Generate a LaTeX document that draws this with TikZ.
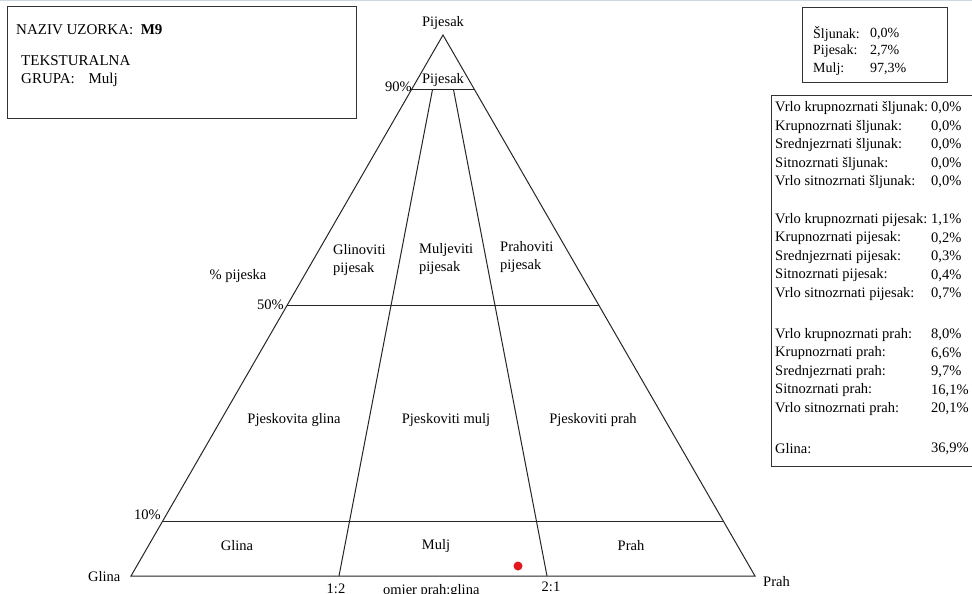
\documentclass[tikz,border=0pt]{standalone}
\usepackage{fontspec}
\setmainfont{Liberation Serif}
\usetikzlibrary{calc}
\definecolor{dotred}{RGB}{225,25,30}
\definecolor{topline}{RGB}{205,215,225}
\begin{document}
\begin{tikzpicture}[x=1pt,y=-1pt,
  txt/.style={inner sep=0pt, anchor=west, font=\rmfamily\fontsize{15}{17}\selectfont},
  btxt/.style={inner sep=0pt, anchor=west, font=\rmfamily\fontsize{14.5}{17}\selectfont},
  stxt/.style={inner sep=0pt, anchor=west, font=\rmfamily\fontsize{14}{16}\selectfont},
  lbl/.style={inner sep=0pt, font=\rmfamily\fontsize{14.5}{18}\selectfont, align=left},
  edge/.style={line width=1pt, draw=black!85},
  frame/.style={line width=1pt, draw=black!80}]
\useasboundingbox (0,0) rectangle (972,594);
\clip (0,0) rectangle (972,594);
\fill[white] (0,0) rectangle (972,594);
\draw[line width=1.5pt, draw=topline] (0,0.75) -- (972,0.75);

% info box left
\draw[frame] (7,7) rectangle (356,118);
\node[txt] (naziv) at (16,30) {NAZIV UZORKA:\enspace\textbf{M9}};
\node[txt] (tek) at (21,61) {TEKSTURALNA};
\node[txt] (grupa) at (21,80) {GRUPA:\enspace\, Mulj};

% info box top right
\draw[frame] (802,8) rectangle (947,83);
\node[stxt] (s1) at (813,34) {Šljunak:};
\node[stxt] (s1v) at (870,34) {0,0\%};
\node[stxt] (s2) at (813,51) {Pijesak:};
\node[stxt] (s2v) at (870,51) {2,7\%};
\node[stxt] (s3) at (813,69) {Mulj:};
\node[stxt] (s3v) at (870,69) {97,3\%};

% big right box
\draw[frame] (771,95) rectangle (990,466);
\node[btxt] (k1) at (775,108) {Vrlo krupnozrnati šljunak:};
\node[btxt] (v1) at (931,108) {0,0\%};
\node[btxt] (k2) at (775,126.5) {Krupnozrnati šljunak:};
\node[btxt] (v2) at (931,126.5) {0,0\%};
\node[btxt] (k3) at (775,145) {Srednjezrnati šljunak:};
\node[btxt] (v3) at (931,145) {0,0\%};
\node[btxt] (k4) at (775,163.5) {Sitnozrnati šljunak:};
\node[btxt] (v4) at (931,163.5) {0,0\%};
\node[btxt] (k5) at (775,182) {Vrlo sitnozrnati šljunak:};
\node[btxt] (v5) at (931,182) {0,0\%};
\node[btxt] (k6) at (775,220) {Vrlo krupnozrnati pijesak:};
\node[btxt] (v6) at (931,220) {1,1\%};
\node[btxt] (k7) at (775,238.5) {Krupnozrnati pijesak:};
\node[btxt] (v7) at (931,238.5) {0,2\%};
\node[btxt] (k8) at (775,257) {Srednjezrnati pijesak:};
\node[btxt] (v8) at (931,257) {0,3\%};
\node[btxt] (k9) at (775,275.5) {Sitnozrnati pijesak:};
\node[btxt] (v9) at (931,275.5) {0,4\%};
\node[btxt] (k10) at (775,294) {Vrlo sitnozrnati pijesak:};
\node[btxt] (v10) at (931,294) {0,7\%};
\node[btxt] (k11) at (775,335) {Vrlo krupnozrnati prah:};
\node[btxt] (v11) at (931,335) {8,0\%};
\node[btxt] (k12) at (775,353.5) {Krupnozrnati prah:};
\node[btxt] (v12) at (931,353.5) {6,6\%};
\node[btxt] (k13) at (775,372) {Srednjezrnati prah:};
\node[btxt] (v13) at (931,372) {9,7\%};
\node[btxt] (k14) at (775,390.5) {Sitnozrnati prah:};
\node[btxt] (v14) at (931,390.5) {16,1\%};
\node[btxt] (k15) at (775,409) {Vrlo sitnozrnati prah:};
\node[btxt] (v15) at (931,409) {20,1\%};
\node[btxt] (k16) at (775,449) {Glina:};
\node[btxt] (v16) at (931,449) {36,9\%};

% triangle
\coordinate (G) at (131,576);
\coordinate (P) at (755,576);
\coordinate (S) at (443,35);
\coordinate (r12) at (339,576);
\coordinate (r21) at (547,576);
\coordinate (L90) at ($(G)!0.9!(S)$);
\coordinate (R90) at ($(P)!0.9!(S)$);
\coordinate (L50) at ($(G)!0.5!(S)$);
\coordinate (R50) at ($(P)!0.5!(S)$);
\coordinate (L10) at ($(G)!0.1!(S)$);
\coordinate (R10) at ($(P)!0.1!(S)$);
\coordinate (a90) at ($(r12)!0.9!(S)$);
\coordinate (b90) at ($(r21)!0.9!(S)$);

\draw[edge, line join=miter] (G) -- (S) -- (P) -- cycle;
\draw[edge] (L90) -- (R90);
\draw[edge] (L50) -- (R50);
\draw[edge] (L10) -- (R10);
\draw[edge] (r12) -- (a90);
\draw[edge] (r21) -- (b90);

\fill[dotred] (518,566) circle (4.5);

% labels around triangle
\node[lbl] (top) at (443,23) {Pijesak};
\node[lbl] (topin) at (443,80) {Pijesak};
\node[lbl, anchor=east] (p90) at (412,87) {90\%};
\node[lbl, anchor=east] (p50) at (284,305) {50\%};
\node[lbl, anchor=east] (p10) at (161,515) {10\%};
\node[lbl] (pp) at (238,276) {\% pijeska};
\node[lbl, anchor=west] (cg) at (88,577) {Glina};
\node[lbl, anchor=west] (cp) at (763,582) {Prah};
\node[lbl] (t12) at (336,589) {1:2};
\node[lbl] (t21) at (551,587) {2:1};
\node[lbl, anchor=west] (omjer) at (383,591) {omjer prah:glina};

% regions
\node[lbl, anchor=west] (gp) at (333,260) {Glinoviti\\pijesak};
\node[lbl, anchor=west] (mp) at (419,259) {Muljeviti\\pijesak};
\node[lbl, anchor=west] (pr) at (500,257) {Prahoviti\\pijesak};
\node[lbl] (pg) at (294,420) {Pjeskovita glina};
\node[lbl] (pm) at (446,420) {Pjeskoviti mulj};
\node[lbl] (ph) at (593,420) {Pjeskoviti prah};
\node[lbl] (gl) at (237,546) {Glina};
\node[lbl] (mu) at (436,546) {Mulj};
\node[lbl] (pa) at (631,546) {Prah};
\end{tikzpicture}
\end{document}
